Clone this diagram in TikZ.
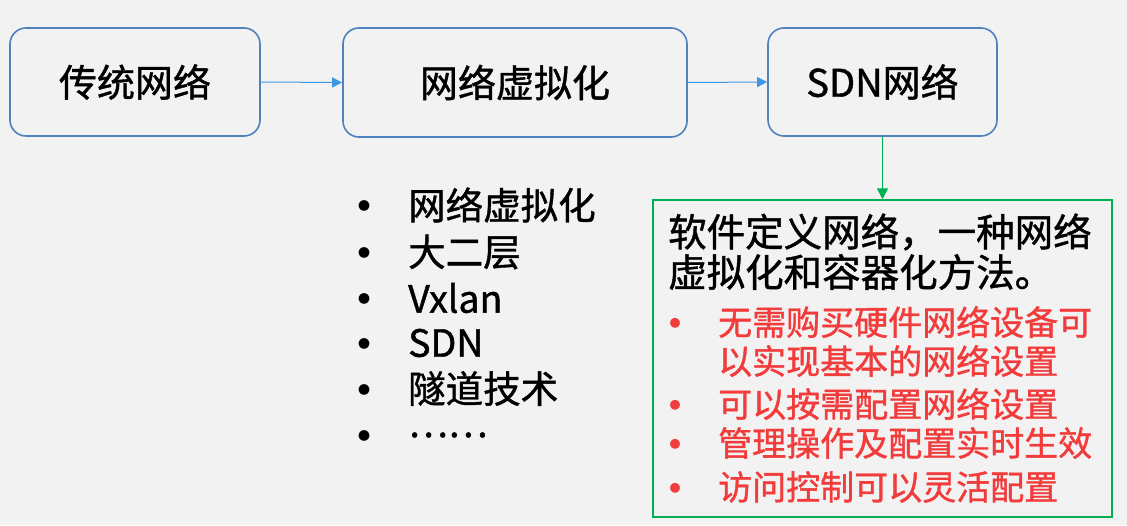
\documentclass[tikz,border=0pt]{standalone}
\usepackage{fontspec}
\newfontfamily\cjk[FakeBold=1.1]{Noto Sans CJK SC}
\newfontfamily\cjkb{Noto Sans CJK SC}
\usetikzlibrary{arrows.meta}
\definecolor{bgc}{HTML}{F2F2F2}
\definecolor{boxblue}{HTML}{4F81BD}
\definecolor{arrblue}{HTML}{3D97E6}
\definecolor{grn}{HTML}{00B050}
\definecolor{redt}{HTML}{F23B3B}
\tikzset{
  flowbox/.style={draw=boxblue, line width=1.6pt, rounded corners=16pt, fill=bgc, inner sep=0pt, font=\cjk\fontsize{38}{44}\selectfont},
  bluearrow/.style={draw=arrblue, line width=1pt, -{Triangle[length=10pt,width=10pt]}},
  greenarrow/.style={draw=grn, line width=1.5pt, -{Triangle[length=11pt,width=11pt]}},
  blk/.style={anchor=west, inner sep=0pt, font=\cjk\fontsize{37.5}{44}\selectfont},
  bul/.style={inner sep=0pt, font=\cjkb\fontsize{12}{12}\selectfont},
  redtxt/.style={anchor=west, inner sep=0pt, text=redt, font=\cjk\fontsize{34}{40}\selectfont},
  redbul/.style={inner sep=0pt, text=redt, font=\cjkb\fontsize{11}{11}\selectfont},
}
\begin{document}
\begin{tikzpicture}[x=1pt,y=-1pt]
\fill[bgc] (0,0) rectangle (1127,525);
\useasboundingbox (0,0) rectangle (1127,525);

\node[flowbox, minimum width=250pt, minimum height=108pt] (b1) at (135,82) {传统网络};
\node[flowbox, minimum width=344pt, minimum height=109pt] (b2) at (515,82.5) {网络虚拟化};
\node[flowbox, minimum width=229pt, minimum height=108pt] (b3) at (882.5,82) {SDN网络};

\draw[bluearrow] (b1.east) -- (b2.west);
\draw[bluearrow] (b2.east) -- (b3.west);

\node[draw=grn, line width=1.5pt, minimum width=459pt, minimum height=317pt, inner sep=0pt] (g) at (882.5,358.5) {};
\draw[greenarrow] (b3.south) -- (g.north);

% left bullet list
\node[bul] (d1) at (364,206) {●};
\node[blk] (t1) at (408,205) {网络虚拟化};
\node[bul] (d2) at (364,253) {●};
\node[blk] (t2) at (408,252) {大二层};
\node[bul] (d3) at (364,299) {●};
\node[blk] (t3) at (408,298) {Vxlan};
\node[bul] (d4) at (364,344) {●};
\node[blk] (t4) at (408,343) {SDN};
\node[bul] (d5) at (364,389.5) {●};
\node[blk] (t5) at (408,388.5) {隧道技术};
\node[bul] (d6) at (364,436) {●};
\node[blk] (t6) at (408,435) {……};

% green box text
\node[blk, font=\cjk\fontsize{38.5}{44}\selectfont] (h1) at (668,232) {软件定义网络，一种网络};
\node[blk, font=\cjk\fontsize{38.5}{44}\selectfont] (h2) at (668,272) {虚拟化和容器化方法。};

\node[redbul] (r1b) at (675,323) {●};
\node[redtxt] (r1) at (718,322) {无需购买硬件网络设备可};
\node[redtxt] (r1c) at (718,361) {以实现基本的网络设置};
\node[redbul] (r2b) at (675,405) {●};
\node[redtxt] (r2) at (718,404) {可以按需配置网络设置};
\node[redbul] (r3b) at (675,444) {●};
\node[redtxt] (r3) at (718,443) {管理操作及配置实时生效};
\node[redbul] (r4b) at (675,488) {●};
\node[redtxt] (r4) at (718,487) {访问控制可以灵活配置};
\end{tikzpicture}
\end{document}
